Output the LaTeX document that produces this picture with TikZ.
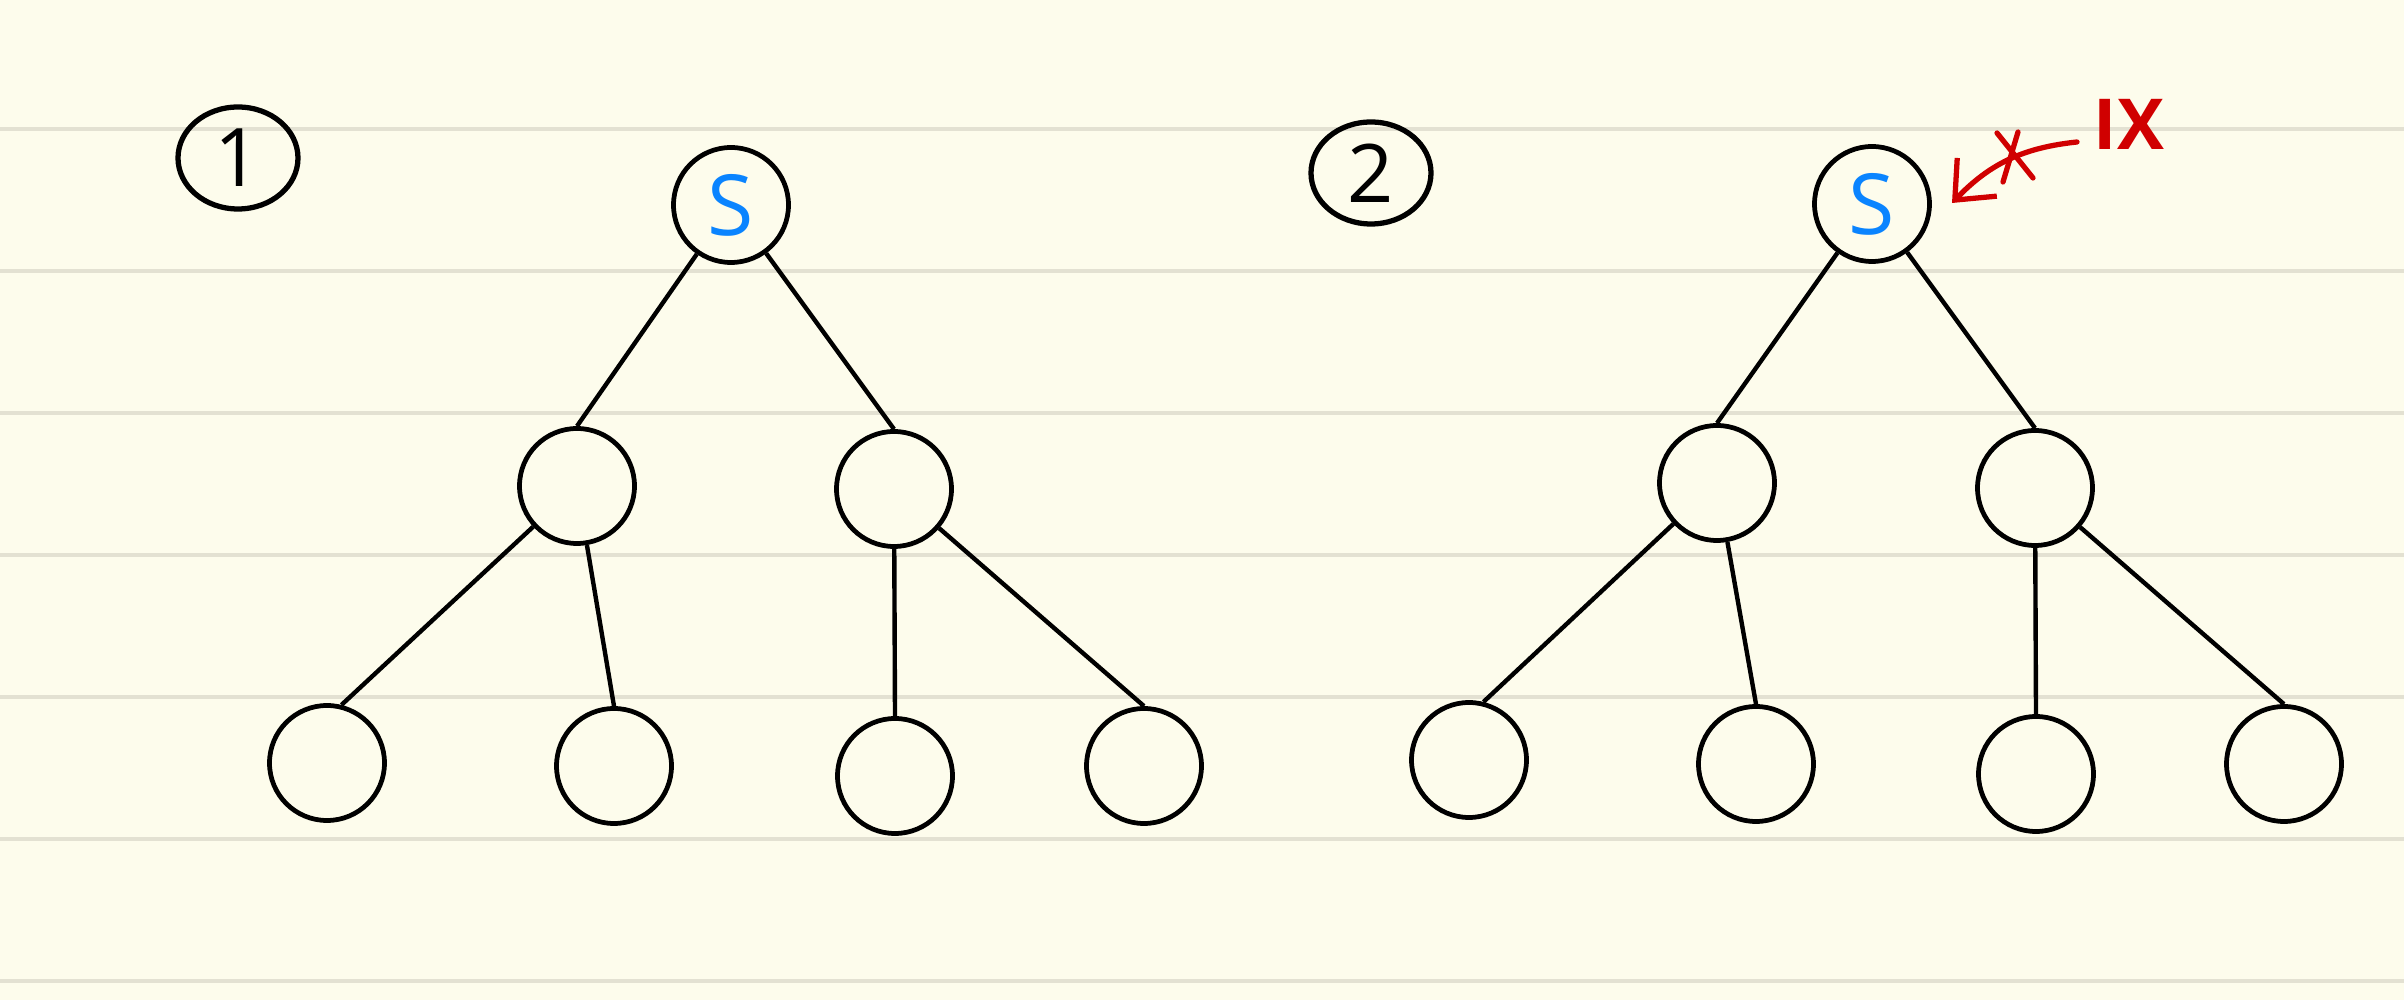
\documentclass[tikz,border=0pt]{standalone}
\usepackage{fontspec}
\usepackage{tikz}
\usetikzlibrary{arrows.meta,shapes.geometric}
\newfontfamily\handfont{Open Sans}
\definecolor{paper}{RGB}{253,252,236}
\definecolor{ruling}{RGB}{227,225,210}
\definecolor{sblue}{RGB}{10,132,255}
\definecolor{pen}{RGB}{208,0,0}
\begin{document}
\begin{tikzpicture}[vertex/.style={draw, circle, line width=1.35pt, minimum size=1.15cm, inner sep=0pt},
                    edge/.style={line width=1.25pt},
                    rule/.style={ruling, line width=1.1pt},
                    number/.style={draw, ellipse, line width=1.5pt, minimum width=1.2cm, minimum height=1.02cm, inner sep=0pt, font=\fontsize{23}{23}\selectfont\handfont},
                    start/.style={text=sblue, font=\fontsize{24}{24}\selectfont\handfont}]
    % paper
    \fill[paper] (0,0) rectangle (24.04,-10);
    \useasboundingbox (0,0) rectangle (24.04,-10);
    \foreach \i in {0,...,6}
        \draw[rule] (0,{-1.29-1.4207*\i}) -- (24.04,{-1.29-1.4207*\i});
    % first tree
    \node[number] (numA) at (2.38,-1.58) {1};
    \node[vertex, start] (sA) at (7.31,-2.05) {S};
    \node[vertex] (lA) at (5.77,-4.86) {};
    \node[vertex] (rA) at (8.94,-4.89) {};
    \node[vertex] (llA) at (3.27,-7.63) {};
    \node[vertex] (lrA) at (6.14,-7.66) {};
    \node[vertex] (rlA) at (8.95,-7.76) {};
    \node[vertex] (rrA) at (11.44,-7.66) {};
    \draw[edge] (sA) -- (lA.north);
    \draw[edge] (sA) -- (rA.north);
    \draw[edge] (lA) -- (llA.76);
    \draw[edge] (lA) -- (lrA.north);
    \draw[edge] (rA) -- (rlA.north);
    \draw[edge] (rA) -- (rrA.north);
    % second tree
    \node[number] (numB) at (13.71,-1.73) {2};
    \node[vertex, start] (sB) at (18.72,-2.04) {S};
    \node[vertex] (lB) at (17.17,-4.83) {};
    \node[vertex] (rB) at (20.35,-4.88) {};
    \node[vertex] (llB) at (14.69,-7.60) {};
    \node[vertex] (lrB) at (17.56,-7.64) {};
    \node[vertex] (rlB) at (20.36,-7.74) {};
    \node[vertex] (rrB) at (22.84,-7.64) {};
    \draw[edge] (sB) -- (lB.north);
    \draw[edge] (sB) -- (rB.north);
    \draw[edge] (lB) -- (llB.76);
    \draw[edge] (lB) -- (lrB.north);
    \draw[edge] (rB) -- (rlB.north);
    \draw[edge] (rB) -- (rrB.north);
    % red note
    \node[text=pen, font=\fontsize{20}{20}\selectfont\handfont\bfseries, inner sep=1pt] (ix) at (21.29,-1.24) {IX};
    \coordinate (tail) at (20.77,-1.42);
    \coordinate (tip) at (19.52,-2.03);
    \coordinate (cross) at (20.13,-1.57);
    \draw[pen, line width=1.5pt, line cap=round, -{Straight Barb[length=3.2mm, width=5.5mm]}] (tail) to[bend right=20] (tip);
    \draw[pen, line width=1.5pt, line cap=round] ([shift={(-0.16,0.24)}]cross) -- ([shift={(0.20,-0.21)}]cross);
    \draw[pen, line width=1.5pt, line cap=round] ([shift={(0.05,0.25)}]cross) -- ([shift={(-0.10,-0.25)}]cross);
\end{tikzpicture}
\end{document}
